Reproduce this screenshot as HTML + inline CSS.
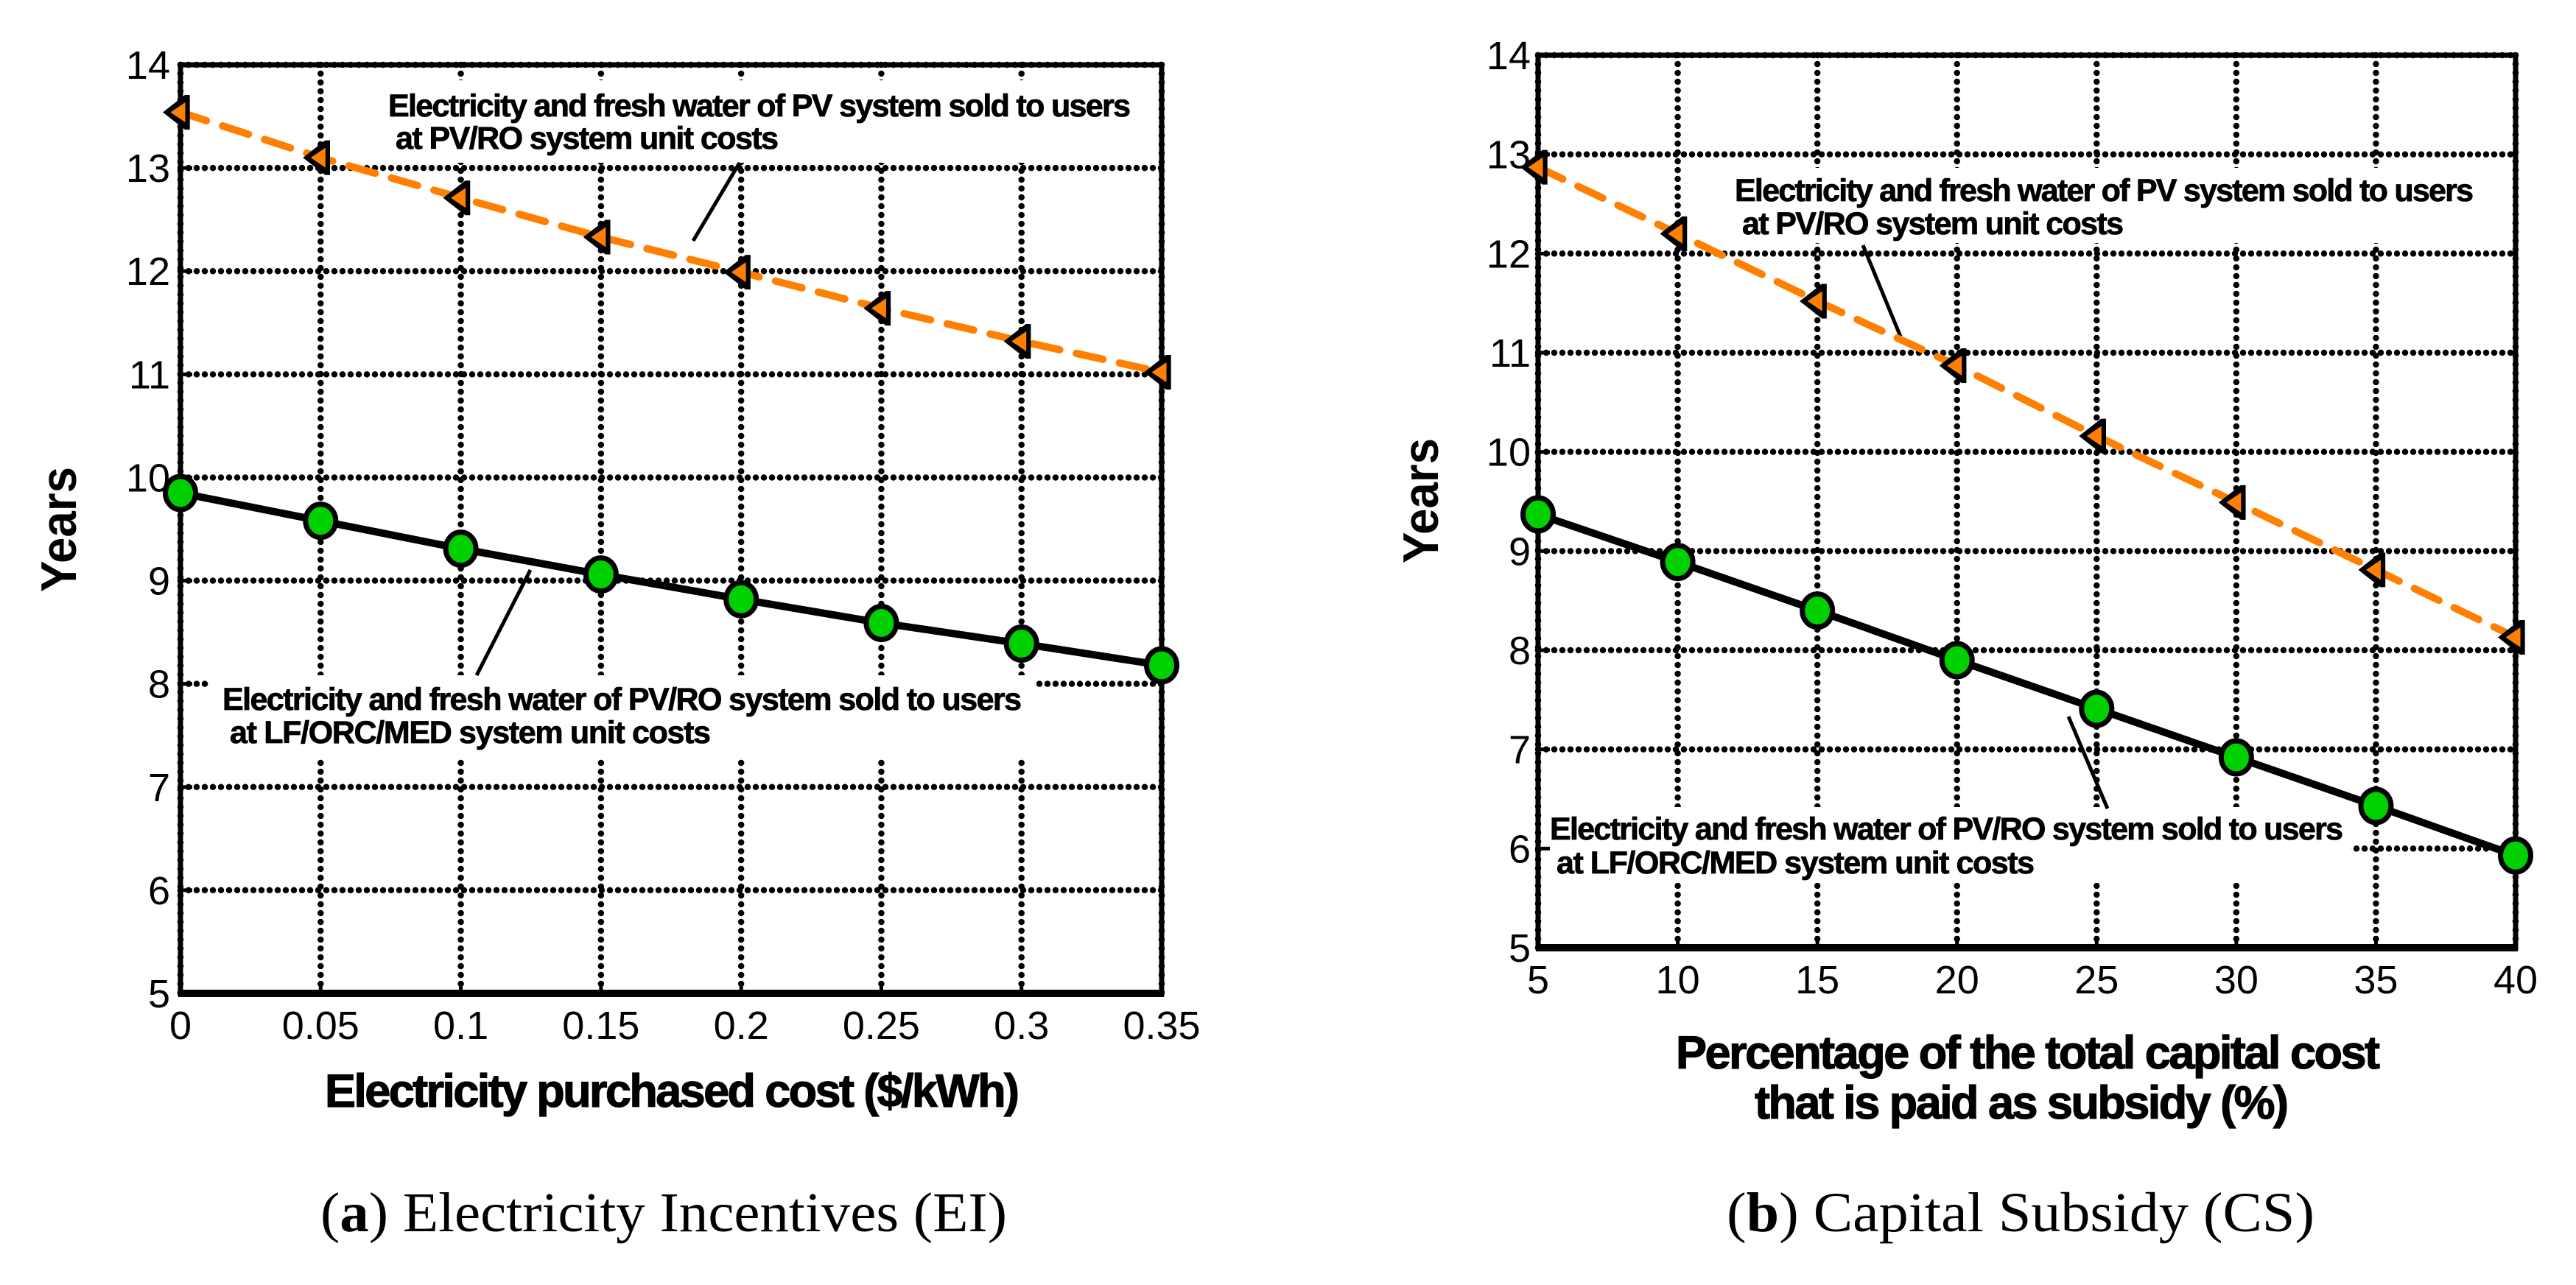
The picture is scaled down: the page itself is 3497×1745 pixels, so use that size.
<!DOCTYPE html>
<html lang="en">
<head>
<meta charset="utf-8">
<title>Payback years: Electricity Incentives and Capital Subsidy</title>
<style>
html,body{margin:0;padding:0;background:#fff;}
svg{display:block;}
text{font-family:"Liberation Sans",Arial,sans-serif;fill:#000;}
.tick{font-size:54px;}
.note{font-size:43px;font-weight:bold;stroke:#000;stroke-width:.8px;}
.axis-title{font-size:63px;font-weight:bold;stroke:#000;stroke-width:1.2px;}
.years{font-size:68px;font-weight:bold;}
.cap{font-family:"Liberation Serif","Times New Roman",serif;font-size:76px;}
</style>
</head>
<body>
<svg id="figure" xmlns="http://www.w3.org/2000/svg" width="3497" height="1745" viewBox="0 0 3497 1745">
<rect width="3497" height="1745" fill="#fff"/>
<g id="panel-a"></g>
<g id="panel-b"></g>
</svg>
<script>
// Panel (a) data
const aCategories = [0, 0.05, 0.1, 0.15, 0.2, 0.25, 0.3, 0.35];
const aXTickLabels = ["0", "0.05", "0.1", "0.15", "0.2", "0.25", "0.3", "0.35"];
const aPvValues = [13.54, 13.10, 12.71, 12.33, 11.99, 11.64, 11.32, 11.02];
const aPvroValues = [9.85, 9.58, 9.31, 9.06, 8.82, 8.59, 8.39, 8.18];

// Panel (b) data
const bCategories = [5, 10, 15, 20, 25, 30, 35, 40];
const bXTickLabels = ["5", "10", "15", "20", "25", "30", "35", "40"];
const bPvValues = [12.87, 12.20, 11.52, 10.87, 10.16, 9.49, 8.81, 8.13];
const bPvroValues = [9.37, 8.89, 8.40, 7.90, 7.41, 6.92, 6.43, 5.93];

// Shared y axis
const yTickValues = [5, 6, 7, 8, 9, 10, 11, 12, 13, 14];
const yTickLabels = ["5", "6", "7", "8", "9", "10", "11", "12", "13", "14"];

const NS = "http://www.w3.org/2000/svg";

function make(parent, tag, attrs, content) {
  const el = document.createElementNS(NS, tag);
  for (const k in attrs) el.setAttribute(k, attrs[k]);
  if (content !== undefined) el.textContent = content;
  parent.appendChild(el);
  return el;
}

function offsetPoints(cx, cy, offsets) {
  return offsets.map(function (p) { return (cx + p[0]) + "," + (cy + p[1]); }).join(" ");
}

function drawPanel(root, c) {
  const xMin = c.categories[0];
  const xMax = c.categories[c.categories.length - 1];
  const yMin = yTickValues[0];
  const yMax = yTickValues[yTickValues.length - 1];
  const xScale = function (v) { return c.left + (v - xMin) / (xMax - xMin) * (c.right - c.left); };
  const yScale = function (v) { return c.bottom - (v - yMin) / (yMax - yMin) * (c.bottom - c.top); };

  // Grid lines
  c.categories.forEach(function (v) {
    const line = make(root, "line", {
      x1: xScale(v), x2: xScale(v), y1: c.top, y2: c.bottom,
      stroke: "#000", "stroke-width": 8.5, "stroke-linecap": "round", "stroke-dasharray": "0 12"
    });
    
    
  });
  yTickValues.forEach(function (v) {
    const line = make(root, "line", {
      x1: c.left, x2: c.right, y1: yScale(v), y2: yScale(v),
      stroke: "#000", "stroke-width": 8.5, "stroke-linecap": "round", "stroke-dasharray": "0 11"
    });
    
    
  });

  // White backing behind annotations
  c.boxes.forEach(function (b) {
    const box = make(root, "rect", { x: b[0], y: b[1], width: b[2] - b[0], height: b[3] - b[1], fill: "#fff" });
    
    
  });

  // Ticks
  yTickValues.forEach(function (v) {
    const tick = make(root, "line", {
      x1: c.left, x2: c.left + 16, y1: yScale(v), y2: yScale(v), stroke: "#000", "stroke-width": 5
    });
    
    
  });
  c.categories.forEach(function (v) {
    const tick = make(root, "line", {
      x1: xScale(v), x2: xScale(v), y1: c.bottom, y2: c.bottom - 16, stroke: "#000", "stroke-width": 5
    });
    
    
  });

  // Axes frame
  const frame = make(root, "rect", {
    x: c.left, y: c.top, width: c.right - c.left, height: c.bottom - c.top,
    fill: "none", stroke: "#000", "stroke-width": 7
  });
  
  
  const bottomAxis = make(root, "line", {
    x1: c.left - 3, x2: c.right + 3, y1: c.bottom, y2: c.bottom, stroke: "#000", "stroke-width": 10
  });
  
  

  // Leader lines
  c.leaders.forEach(function (l) {
    const leader = make(root, "line", {
      x1: l[0], y1: l[1], x2: l[2], y2: l[3], stroke: "#000", "stroke-width": 5
    });
    
    
  });

  // Series lines
  const pvPts = c.categories.map(function (v, i) { return xScale(v) + "," + yScale(c.pv[i]); }).join(" ");
  const pvroPts = c.categories.map(function (v, i) { return xScale(v) + "," + yScale(c.pvro[i]); }).join(" ");

  const pvroLine = make(root, "polyline", {
    points: pvroPts, fill: "none", stroke: "#000", "stroke-width": 10
  });
  
  

  const pvLine = make(root, "polyline", {
    points: pvPts, fill: "none", stroke: "#ff8000", "stroke-width": 10,
    "stroke-linecap": "round", "stroke-dasharray": "37 23"
  });
  
  

  // Markers
  c.categories.forEach(function (v, i) {
    const cx = xScale(v);
    const cy = yScale(c.pvro[i]);
    const dot = make(root, "ellipse", {
      cx: cx, cy: cy, rx: 20.5, ry: 22.5, fill: "#00d000", stroke: "#000", "stroke-width": 7
    });
    
    
  });
  c.categories.forEach(function (v, i) {
    const cx = xScale(v);
    const cy = yScale(c.pv[i]);
    const outer = make(root, "polygon", {
      points: offsetPoints(cx, cy, [[-24, 0], [6, -23.5], [12.7, -23.5], [12.7, 23.5], [6, 23.5]]),
      fill: "#000"
    });
    
    
    const inner = make(root, "polygon", {
      points: offsetPoints(cx, cy, [[-13.5, 0], [6.5, -13.5], [6.5, 13.5]]),
      fill: "#ff8000"
    });
    
    
  });

  // Tick labels
  yTickValues.forEach(function (v, i) {
    const t = make(root, "text", {
      x: c.yLabelX, y: yScale(v) + 19, "text-anchor": "end", "class": "tick"
    }, yTickLabels[i]);
    
    
  });
  c.categories.forEach(function (v, i) {
    const t = make(root, "text", {
      x: xScale(v), y: c.xLabelY, "text-anchor": "middle", "class": "tick"
    }, c.xLabels[i]);
    
    
  });

  // Annotations
  c.notes.forEach(function (n) {
    const t = make(root, "text", {
      x: n[0], y: n[1], textLength: n[2], lengthAdjust: "spacing", "class": "note"
    }, n[3]);
    
    
  });

  // Axis titles
  c.xTitles.forEach(function (n) {
    const t = make(root, "text", {
      x: n[0], y: n[1], textLength: n[2], lengthAdjust: "spacing", "class": "axis-title"
    }, n[3]);
    
    
  });
  const yTitle = make(root, "text", {
    transform: "translate(" + (c.yTitle[0] - 85) + "," + c.yTitle[1] + ")",
    textLength: 170, lengthAdjust: "spacingAndGlyphs", "class": "years"
  }, "Years");
  yTitle.setAttribute('transform', 'translate(' + c.yTitle[0] + ',' + c.yTitle[1] + ') rotate(-90) translate(-85,0)');
  
  

  // Caption
  const cap = make(root, "text", {
    x: c.caption[0], y: c.caption[1], textLength: c.caption[2], lengthAdjust: "spacingAndGlyphs", "class": "cap"
  });
  
  
  make(cap, "tspan", {}, "(");
  make(cap, "tspan", { "font-weight": "bold" }, c.caption[3]);
  make(cap, "tspan", {}, ") " + c.caption[4]);
}

drawPanel(document.getElementById("panel-a"), {
  categories: aCategories, xLabels: aXTickLabels, pv: aPvValues, pvro: aPvroValues,
  left: 245, right: 1577, top: 88, bottom: 1349,
  yLabelX: 231, xLabelY: 1411,
  boxes: [[500, 109, 1555, 221], [285, 917, 1404, 1030]],
  leaders: [[1004, 221, 941, 327], [720, 774, 647, 917]],
  notes: [
    [527, 158, 1008, "Electricity and fresh water of PV system sold to users"],
    [537, 202, 520, "at PV/RO system unit costs"],
    [302, 964, 1085, "Electricity and fresh water of PV/RO system sold to users"],
    [312, 1009, 653, "at LF/ORC/MED system unit costs"]
  ],
  xTitles: [[441, 1503, 943, "Electricity purchased cost ($/kWh)"]],
  yTitle: [103, 719],
  caption: [435, 1672, 932, "a", "Electricity Incentives (EI)"]
});

drawPanel(document.getElementById("panel-b"), {
  categories: bCategories, xLabels: bXTickLabels, pv: bPvValues, pvro: bPvroValues,
  left: 2088, right: 3415, top: 75, bottom: 1287,
  yLabelX: 2078, xLabelY: 1349,
  boxes: [[2340, 228, 3370, 330], [2095, 1096, 3192, 1199]],
  leaders: [[2529, 333, 2580, 457], [2808, 973, 2861, 1098]],
  notes: [
    [2355, 273, 1003, "Electricity and fresh water of PV system sold to users"],
    [2365, 318, 518, "at PV/RO system unit costs"],
    [2104, 1140, 1077, "Electricity and fresh water of PV/RO system sold to users"],
    [2113, 1186, 649, "at LF/ORC/MED system unit costs"]
  ],
  xTitles: [
    [2275, 1451, 956, "Percentage of the total capital cost"],
    [2382, 1519, 725, "that is paid as subsidy (%)"]
  ],
  yTitle: [1952, 680],
  caption: [2344, 1672, 798, "b", "Capital Subsidy (CS)"]
});
</script>
</body>
</html>
